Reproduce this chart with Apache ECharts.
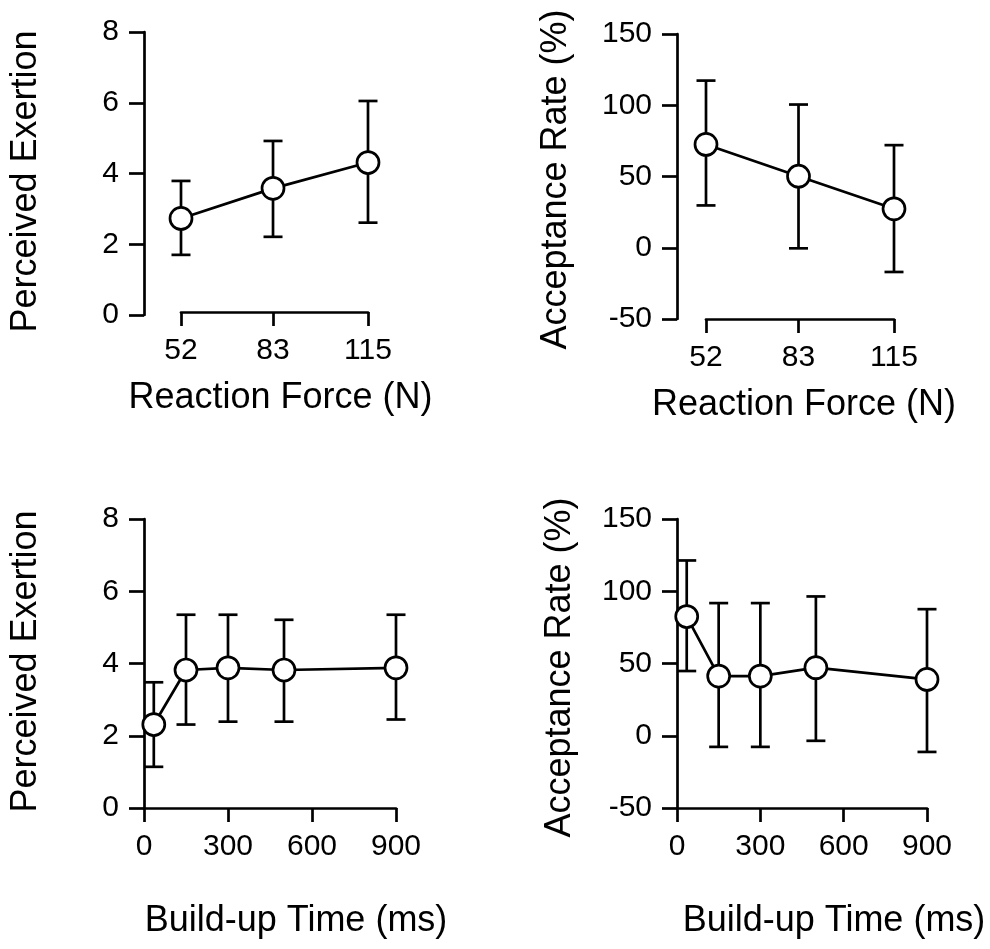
<!DOCTYPE html>
<html>
<head>
<meta charset="utf-8">
<script src="https://cdn.jsdelivr.net/npm/echarts@6/dist/echarts.min.js"></script>
<style>
  html, body { margin: 0; padding: 0; background: #fff; }
  #chart { width: 990px; height: 949px; }
</style>
</head>
<body>
<div id="chart"></div>
<script>
// ---- Data ----
const forceX = [52, 83, 115];
const forceTicks = [52, 83, 115];
const exertionForceMean = [2.73, 3.58, 4.31];
const exertionForceLow  = [1.70, 2.21, 2.61];
const exertionForceHigh = [3.79, 4.92, 6.05];
const acceptForceMean = [72.5, 50.2, 27.3];
const acceptForceLow  = [29.7, -0.4, -17.0];
const acceptForceHigh = [117.3, 100.5, 72.0];

const buildX = [35, 150, 300, 500, 900];
const exertionBuildMean = [2.31, 3.82, 3.88, 3.82, 3.88];
const exertionBuildLow  = [1.14, 2.31, 2.39, 2.39, 2.45];
const exertionBuildHigh = [3.48, 5.35, 5.35, 5.21, 5.35];
const acceptBuildMean = [82.5, 41.3, 41.3, 47.1, 39.0];
const acceptBuildLow  = [44.8, -7.7, -7.7, -3.5, -11.2];
const acceptBuildHigh = [121.3, 91.8, 91.8, 96.4, 87.6];

const exertionTicks = [0, 2, 4, 6, 8];
const acceptTicks = [-50, 0, 50, 100, 150];
const buildTicks = [0, 300, 600, 900];

// ---- Styling ----
const FONT = "'Liberation Sans', Arial, Helvetica, sans-serif";
const LW = 2.7;
const tickFont = 30;
const nameFont = 36;

const chart = echarts.init(document.getElementById('chart'), null, { renderer: 'canvas' });

const panels = [
  { grid: { left: 181, top: 32, width: 187, height: 283 }, x: forceX, mean: exertionForceMean, low: exertionForceLow, high: exertionForceHigh,
    xmin: 52, xmax: 115, xticks: forceTicks, ymin: 0, ymax: 8, yticks: exertionTicks,
    xname: 'Reaction Force (N)', yname: 'Perceived Exertion', yOffset: 37, xOffset: -3, xNameGap: 68, yNameGap: 100, xNamePad: [0,0,0,12], yNamePad: [0,16,0,0] },
  { grid: { left: 706, top: 34, width: 188, height: 285 }, x: forceX, mean: acceptForceMean, low: acceptForceLow, high: acceptForceHigh,
    xmin: 52, xmax: 115, xticks: forceTicks, ymin: -50, ymax: 150, yticks: acceptTicks,
    xname: 'Reaction Force (N)', yname: 'Acceptance Rate (%)', yOffset: 29, xOffset: 0, xNameGap: 68, yNameGap: 103, xNamePad: [0,0,0,8], yNamePad: [0,6,0,0] },
  { grid: { left: 144, top: 519, width: 252, height: 289 }, x: buildX, mean: exertionBuildMean, low: exertionBuildLow, high: exertionBuildHigh,
    xmin: 0, xmax: 900, xticks: buildTicks, ymin: 0, ymax: 8, yticks: exertionTicks,
    xname: 'Build-up Time (ms)', yname: 'Perceived Exertion', yOffset: 0, xOffset: 0, xNameGap: 95, yNameGap: 100, xNamePad: [0,0,0,52], yNamePad: [0,0,0,4] },
  { grid: { left: 677, top: 519, width: 250, height: 289 }, x: buildX, mean: acceptBuildMean, low: acceptBuildLow, high: acceptBuildHigh,
    xmin: 0, xmax: 900, xticks: buildTicks, ymin: -50, ymax: 150, yticks: acceptTicks,
    xname: 'Build-up Time (ms)', yname: 'Acceptance Rate (%)', yOffset: 0, xOffset: 0, xNameGap: 95, yNameGap: 99, xNamePad: [0,0,0,64], yNamePad: [0,8,0,0] }
];

const grids = [], xAxes = [], yAxes = [], series = [];

panels.forEach((p, i) => {
  grids.push(Object.assign({ outerBoundsMode: 'none', containLabel: false }, p.grid));
  xAxes.push({
    type: 'value', gridIndex: i, min: p.xmin, max: p.xmax,
    offset: p.xOffset,
    name: p.xname, nameLocation: 'middle', nameGap: p.xNameGap,
    nameTextStyle: { fontFamily: FONT, fontSize: nameFont, color: '#000', padding: p.xNamePad },
    axisLine: { show: true, onZero: false, lineStyle: { color: '#000', width: LW } },
    axisTick: { show: true, length: 14, lineStyle: { color: '#000', width: LW }, customValues: p.xticks },
    axisLabel: { show: true, margin: 24, fontFamily: FONT, fontSize: tickFont, color: '#000', customValues: p.xticks },
    splitLine: { show: false }
  });
  yAxes.push({
    type: 'value', gridIndex: i, min: p.ymin, max: p.ymax,
    offset: p.yOffset,
    name: p.yname, nameLocation: 'middle', nameGap: p.yNameGap,
    nameTextStyle: { fontFamily: FONT, fontSize: nameFont, color: '#000', padding: p.yNamePad },
    axisLine: { show: true, onZero: false, lineStyle: { color: '#000', width: LW } },
    axisTick: { show: true, length: 15, lineStyle: { color: '#000', width: LW }, customValues: p.yticks },
    axisLabel: { show: true, margin: 25, fontFamily: FONT, fontSize: tickFont, color: '#000', customValues: p.yticks },
    splitLine: { show: false }
  });
  const errData = p.x.map((xv, k) => [xv, p.low[k], p.high[k]]);
  series.push({
    type: 'custom', xAxisIndex: i, yAxisIndex: i, z: 2, clip: false,
    data: errData,
    renderItem: function (params, api) {
      const xv = api.value(0);
      const lo = api.coord([xv, api.value(1)]);
      const hi = api.coord([xv, api.value(2)]);
      const cap = 9.5;
      const st = { stroke: '#000', lineWidth: LW };
      return {
        type: 'group',
        children: [
          { type: 'line', shape: { x1: lo[0], y1: lo[1], x2: hi[0], y2: hi[1] }, style: st },
          { type: 'line', shape: { x1: lo[0] - cap, y1: lo[1], x2: lo[0] + cap, y2: lo[1] }, style: st },
          { type: 'line', shape: { x1: hi[0] - cap, y1: hi[1], x2: hi[0] + cap, y2: hi[1] }, style: st }
        ]
      };
    }
  });
  series.push({
    type: 'line', xAxisIndex: i, yAxisIndex: i, z: 3, clip: false,
    data: p.x.map((xv, k) => [xv, p.mean[k]]),
    symbol: 'circle', symbolSize: 22,
    lineStyle: { color: '#000', width: LW },
    itemStyle: { color: '#fff', borderColor: '#000', borderWidth: LW },
    emphasis: { disabled: true },
    animation: false
  });
});

chart.setOption({
  animation: false,
  backgroundColor: '#fff',
  textStyle: { fontFamily: FONT },
  grid: grids,
  xAxis: xAxes,
  yAxis: yAxes,
  series: series
});
</script>
</body>
</html>
